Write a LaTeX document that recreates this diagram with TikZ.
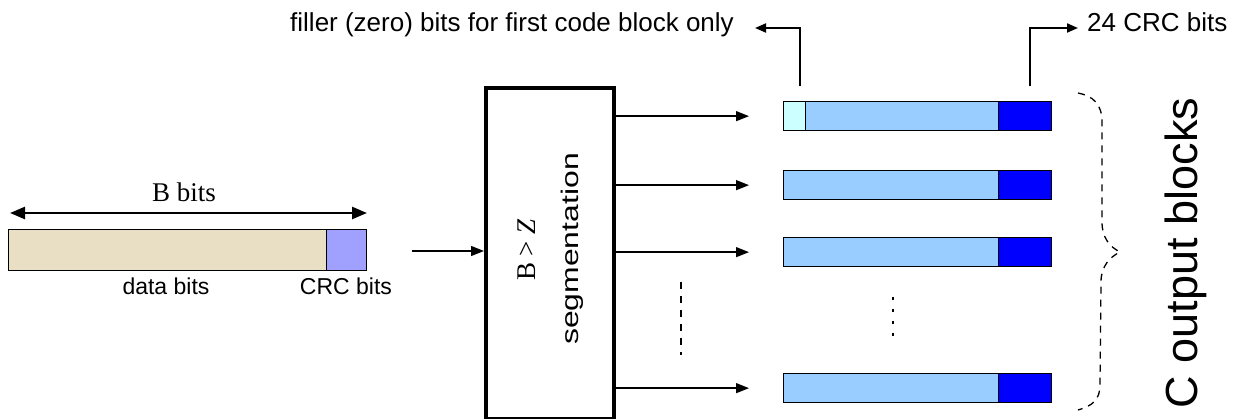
\documentclass[tikz,border=0pt]{standalone}
\usepackage{fontspec}
\setmainfont{Liberation Serif}
\setsansfont{Liberation Sans}
\usetikzlibrary{arrows.meta}
\definecolor{dataC}{HTML}{E8DFC4}
\definecolor{crcC}{HTML}{A0A0FF}
\definecolor{lblue}{HTML}{99CCFF}
\definecolor{dblue}{HTML}{0000FF}
\definecolor{fillC}{HTML}{CCFFFF}
\begin{document}
\begin{tikzpicture}[x=1pt,y=-1pt,
  bar/.style={draw=black, line width=1.3pt, inner sep=0pt, anchor=north west, minimum height=29pt},
  arr/.style={line width=1.3pt, -{Triangle[length=13pt,width=10pt]}},
  annarr/.style={line width=2pt, -{Triangle[length=11pt,width=9pt]}},
  darr/.style={line width=2.5pt, {Triangle[length=15pt,width=12pt]}-{Triangle[length=15pt,width=12pt]}},
  sans/.style={font=\sffamily\fontsize{23}{27}\selectfont, inner sep=0pt},
  ann/.style={font=\sffamily\fontsize{26}{30}\selectfont, inner sep=0pt},
  dotline/.style={line width=1.2pt, dash pattern=on 7pt off 7pt}
]
\useasboundingbox (0,0) rectangle (1237,419);

% input data block
\node[bar, fill=dataC, minimum width=318pt, minimum height=41pt] (data) at (8,229) {};
\node[bar, fill=crcC, minimum width=40pt, minimum height=41pt] (crc) at (326,229) {};
\coordinate (bl) at (10,213);
\coordinate (br) at (367,213);
\draw[darr] (bl) -- (br);
\node[font=\fontsize{27}{31}\selectfont, inner sep=0pt, anchor=base] (bbits) at (184,202) {B bits};
\node[sans, anchor=base] (dbits) at (166,295) {data bits};
\node[sans, anchor=base] (cbits) at (346,295) {CRC bits};

% segmentation box
\node[draw, line width=4pt, minimum width=128pt, minimum height=331pt, anchor=north west, inner sep=0pt] (seg) at (484,86.5) {};
\node[rotate=90, inner sep=0pt, font=\fontsize{27}{31}\selectfont] (bz) at (527,250) {B > \textit{Z}};
\node[rotate=90, inner sep=0pt, font=\sffamily\fontsize{24}{28}\selectfont] (segt) at (572,249) {\scalebox{1.33}[1]{segmentation}};
\coordinate (in) at (412,251);
\draw[arr] (in) -- (in -| seg.west);

% output blocks
\node[bar, fill=lblue, minimum width=268pt] (b1) at (783,101) {};
\node[bar, fill=dblue, minimum width=53pt] (c1) at (998,101) {};
\node[bar, fill=fillC, minimum width=22pt] (f1) at (783,101) {};
\node[bar, fill=lblue, minimum width=268pt] (b2) at (783,170) {};
\node[bar, fill=dblue, minimum width=53pt] (c2) at (998,170) {};
\node[bar, fill=lblue, minimum width=268pt] (b3) at (783,237) {};
\node[bar, fill=dblue, minimum width=53pt] (c3) at (998,237) {};
\node[bar, fill=lblue, minimum width=268pt] (b4) at (783,373) {};
\node[bar, fill=dblue, minimum width=53pt] (c4) at (998,373) {};

\foreach \b in {b1,b2,b3,b4}{
  \draw[arr] (seg.east |- \b.west) -- ++(133,0);
}
\draw[dotline] (681,282) -- (681,355);
\draw[line width=1.2pt, dash pattern=on 3pt off 9pt] (893,297) -- (893,340);

% annotations
\coordinate (fb) at (800,86);
\coordinate (fe) at (755,28);
\draw[annarr] (fb) |- (fe);
\node[ann, anchor=base east] (ftext) at (734,32) {filler (zero) bits for first code block only};
\coordinate (cb) at (1030,86);
\coordinate (ce) at (1078,28);
\draw[annarr] (cb) |- (ce);
\node[ann, anchor=base west] (ctext) at (1087,32) {24 CRC bits};

% brace
\draw[line width=1.3pt, dash pattern=on 7pt off 6pt]
  (1078,93) .. controls (1093,96) and (1102,104) .. (1102,122)
  -- (1102,222) .. controls (1102,238) and (1110,247) .. (1120,252)
  .. controls (1110,257) and (1101,266) .. (1101,282)
  -- (1100,385) .. controls (1100,400) and (1092,406) .. (1078,410);

\node[rotate=90, inner sep=0pt, font=\sffamily\fontsize{45}{50}\selectfont] (cout) at (1186,253) {C output blocks};
\end{tikzpicture}
\end{document}
